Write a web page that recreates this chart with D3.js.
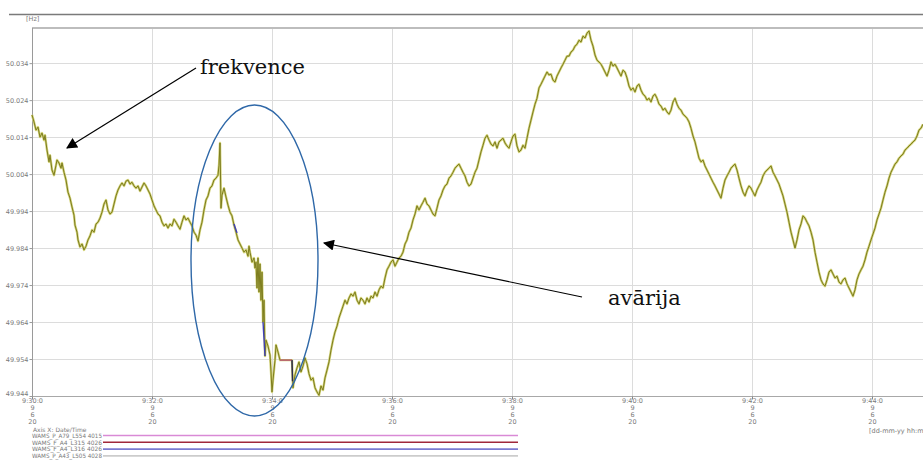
<!DOCTYPE html>
<html>
<head>
<meta charset="utf-8">
<script src="https://cdn.jsdelivr.net/npm/d3@7"></script>
<style>
  html, body { margin: 0; padding: 0; background: #fff; }
  svg { display: block; }
  .tick-label { font-family: "DejaVu Sans", sans-serif; font-size: 6.5px; fill: #7a7a7a; }
  .legend-label { font-family: "DejaVu Sans", sans-serif; font-size: 6px; fill: #7a7a7a; }
  .note { font-family: "DejaVu Serif", serif; font-size: 21px; fill: #111; }
</style>
</head>
<body>
<svg id="chart" width="923" height="460"></svg>
<script>
// Grid frequency, seconds after 09:30:00, and measured value in Hz
const seconds = [
  0,2,4,6,8,10,12,13,15,17,18,20,22,24,25,27,29,30,32,34,36,38,40,42,43,45,46,48,50,52,54,56,58,60,
  62,64,66,68,70,72,74,76,78,80,82,84,86,88,90,92,94,96,98,100,102,104,106,108,110,112,114,116,118,120,
  122,124,126,128,130,132,134,136,138,140,142,144,146,148,150,152,154,156,158,160,162,164,166,168,170,172,
  174,176,178,180,182,184,186,187,188,189,190,192,194,196,198,200,202,204,206,208,210,212,214,216,217,218,
  220,222,223,224,225,226,227,228,229,230,231,232,233,234,236,238,239,240,241,243,244,246,248,252,256,260,
  261,263,265,267,269,271,273,275,277,279,281,283,285,287,289,291,293,295,297,299,301,303,305,307,309,311,
  313,315,317,319,321,323,325,327,329,331,333,335,337,339,341,343,345,347,349,351,353,355,357,359,361,363,
  365,367,369,371,373,375,377,379,381,383,385,387,389,391,393,395,397,399,401,403,405,407,409,411,413,415,
  417,419,421,423,425,427,429,431,433,435,437,439,441,443,445,447,449,451,453,455,457,459,461,463,465,467,
  469,471,473,475,477,479,481,483,485,487,489,491,493,495,497,499,501,503,505,507,509,511,513,515,517,519,
  521,523,525,527,529,531,533,535,537,539,541,543,545,547,549,551,553,555,557,559,561,563,565,567,569,571,
  573,575,577,579,581,583,585,587,589,591,593,595,597,599,601,603,605,607,609,611,613,615,617,619,621,623,
  625,627,629,631,633,635,637,639,641,643,645,647,649,651,653,655,657,659,661,663,665,667,669,671,673,675,
  677,679,681,683,685,687,689,691,693,695,697,699,701,703,705,707,709,711,713,715,717,719,721,723,725,727,
  729,731,733,735,737,739,741,743,745,747,749,751,753,755,757,759,761,763,765,767,769,771,773,775,777,779,
  781,783,785,787,789,791,793,795,797,799,801,803,805,807,809,811,813,815,817,819,821,823,825,827,829,831,
  833,835,837,839,841,843,845,847,849,851,853,855,857,859,861,863,865,867,869,871,873,875,877,879,881,883,
  885,887,889,891
];
const frequency = [
  50.0200,50.0181,50.0159,50.0167,50.0140,50.0151,50.0132,50.0145,50.0105,50.0073,50.0091,50.0051,50.0037,50.0064,50.0078,50.0070,50.0056,50.0070,50.0045,50.0024,49.9991,49.9975,49.9951,49.9929,49.9902,49.9883,49.9862,49.9843,49.9851,49.9835,49.9845,49.9862,49.9873,49.9889,
  49.9883,49.9905,49.9910,49.9921,49.9937,49.9959,49.9970,49.9943,49.9932,49.9937,49.9959,49.9981,49.9997,50.0008,50.0016,50.0008,50.0021,50.0024,50.0013,50.0018,50.0008,50.0002,50.0008,49.9994,50.0005,50.0016,50.0008,49.9997,49.9986,49.9970,
  49.9954,49.9943,49.9932,49.9927,49.9910,49.9900,49.9905,49.9894,49.9905,49.9900,49.9918,49.9910,49.9900,49.9891,49.9910,49.9927,49.9916,49.9921,49.9910,49.9900,49.9883,49.9875,49.9859,49.9889,49.9910,49.9943,
  49.9970,49.9981,50.0002,50.0008,50.0024,50.0029,50.0037,50.0064,50.0124,49.9948,49.9983,50.0002,49.9978,49.9956,49.9937,49.9927,49.9902,49.9883,49.9862,49.9851,49.9840,49.9829,49.9835,49.9818,49.9845,49.9829,
  49.9802,49.9813,49.9786,49.9802,49.9732,49.9813,49.9721,49.9797,49.9699,49.9775,49.9640,49.9699,49.9548,49.9591,49.9575,49.9551,49.9505,49.9451,49.9483,49.9537,49.9578,49.9559,49.9537,49.9537,49.9537,49.9537,
  49.9462,49.9497,49.9516,49.9532,49.9505,49.9521,49.9543,49.9527,49.9500,49.9483,49.9489,49.9462,49.9451,49.9442,49.9467,49.9456,49.9489,49.9510,49.9532,49.9564,49.9591,49.9613,49.9629,49.9651,49.9667,49.9683,
  49.9699,49.9689,49.9705,49.9716,49.9710,49.9721,49.9699,49.9689,49.9705,49.9699,49.9689,49.9705,49.9694,49.9710,49.9705,49.9721,49.9710,49.9727,49.9737,49.9732,49.9759,49.9781,49.9791,49.9802,49.9808,49.9791,
  49.9802,49.9813,49.9818,49.9829,49.9851,49.9862,49.9883,49.9894,49.9916,49.9932,49.9954,49.9943,49.9954,49.9964,49.9975,49.9959,49.9954,49.9943,49.9932,49.9927,49.9948,49.9970,49.9981,49.9997,50.0008,50.0013,
  50.0029,50.0035,50.0045,50.0056,50.0062,50.0067,50.0056,50.0045,50.0035,50.0018,50.0008,50.0013,50.0029,50.0045,50.0056,50.0078,50.0100,50.0118,50.0137,50.0145,50.0132,50.0121,50.0116,50.0127,50.0110,50.0127,
  50.0132,50.0137,50.0124,50.0116,50.0110,50.0127,50.0143,50.0148,50.0116,50.0100,50.0105,50.0118,50.0110,50.0137,50.0164,50.0186,50.0208,50.0229,50.0245,50.0273,50.0283,50.0294,50.0305,50.0316,50.0308,50.0310,
  50.0294,50.0289,50.0305,50.0316,50.0327,50.0337,50.0348,50.0359,50.0359,50.0370,50.0375,50.0386,50.0391,50.0402,50.0397,50.0413,50.0408,50.0421,50.0427,50.0402,50.0386,50.0362,50.0348,50.0343,50.0337,50.0327,
  50.0316,50.0305,50.0321,50.0343,50.0332,50.0337,50.0327,50.0316,50.0305,50.0321,50.0316,50.0300,50.0278,50.0267,50.0273,50.0262,50.0278,50.0283,50.0267,50.0256,50.0251,50.0240,50.0245,50.0235,50.0251,50.0256,
  50.0245,50.0229,50.0224,50.0213,50.0218,50.0208,50.0202,50.0213,50.0235,50.0245,50.0229,50.0218,50.0213,50.0202,50.0197,50.0191,50.0181,50.0164,50.0143,50.0127,50.0105,50.0083,50.0073,50.0078,50.0062,50.0051,
  50.0040,50.0029,50.0018,50.0008,49.9997,49.9986,49.9975,50.0002,50.0024,50.0035,50.0045,50.0056,50.0062,50.0067,50.0051,50.0029,50.0008,49.9991,49.9981,49.9997,50.0008,50.0002,49.9991,49.9981,49.9997,50.0008,
  50.0018,50.0035,50.0045,50.0051,50.0056,50.0062,50.0045,50.0035,50.0024,50.0013,49.9997,49.9981,49.9959,49.9937,49.9910,49.9883,49.9862,49.9840,49.9862,49.9889,49.9905,49.9927,49.9921,49.9910,49.9900,49.9883,
  49.9862,49.9829,49.9802,49.9775,49.9754,49.9743,49.9737,49.9754,49.9775,49.9781,49.9770,49.9759,49.9764,49.9748,49.9743,49.9754,49.9759,49.9743,49.9732,49.9721,49.9710,49.9727,49.9754,49.9770,49.9781,49.9791,
  49.9808,49.9829,49.9845,49.9862,49.9878,49.9894,49.9916,49.9932,49.9948,49.9970,49.9991,50.0008,50.0029,50.0045,50.0056,50.0067,50.0073,50.0083,50.0089,50.0094,50.0105,50.0110,50.0116,50.0121,50.0127,50.0132,
  50.0143,50.0159,50.0164,50.0175
];

// Short stretches where other feeders show through the main trace
const l316Seconds = [202, 203, 204, 205];
const l316Values  = [49.9905, 49.9897, 49.9889, 49.9881];
const l316Seconds2 = [231, 232, 233];
const l316Values2  = [49.9640, 49.9594, 49.9548];
const l315Seconds = [248, 252, 256, 260];
const l315Values  = [49.9537, 49.9537, 49.9537, 49.9537];
const l505Seconds = [260, 260.5];
const l505Values  = [49.9537, 49.9480];

const yTicks = [49.944, 49.954, 49.964, 49.974, 49.984, 49.994, 50.004, 50.014, 50.024, 50.034];
const xTickMinutes = [30, 32, 34, 36, 38, 40, 42, 44];
const dateLines = ["9", "6", "20"];
const legendItems = ["WAMS_P_A79_L554 4015", "WAMS_F_A4_L315 4026", "WAMS_F_A4_L316 4026", "WAMS_P_A43_L505 4028"];
const legendColors = ["#d98ad6", "#a0283a", "#7a7ad0", "#cccccc"];

const svg = d3.select("#chart");
const base = new Date(2020, 5, 9, 9, 30, 0);
const at = s => new Date(base.getTime() + s * 1000);

const x = d3.scaleTime()
  .domain([base, at(891)])
  .range([32, 923]);
const y = d3.scaleLinear()
  .domain([49.944, 50.0435])
  .range([396, 28]);

// page rule and plot frame top
svg.append("line").attr("x1", 9).attr("x2", 923).attr("y1", 14.5).attr("y2", 14.5)
  .attr("stroke", "#7a7a7a").attr("stroke-width", 1.5);
svg.append("text").attr("class", "tick-label").attr("x", 26).attr("y", 20.5).text("[Hz]");
svg.append("line").attr("x1", 32).attr("x2", 923).attr("y1", 28).attr("y2", 28)
  .attr("stroke", "#bdbdbd").attr("stroke-width", 2);

// grid
const xTicks = xTickMinutes.map(m => new Date(2020, 5, 9, 9, m, 0));
svg.append("g").selectAll("line").data(yTicks.slice(1)).join("line")
  .attr("x1", 32).attr("x2", 923)
  .attr("y1", d => Math.round(y(d)) + 0.5).attr("y2", d => Math.round(y(d)) + 0.5)
  .attr("stroke", "#dcdcdc").attr("stroke-width", 1);
svg.append("g").selectAll("line").data(xTicks.slice(1)).join("line")
  .attr("x1", d => Math.round(x(d)) + 0.5).attr("x2", d => Math.round(x(d)) + 0.5)
  .attr("y1", 29).attr("y2", 396)
  .attr("stroke", "#dcdcdc").attr("stroke-width", 1);

// y axis
const yAxis = d3.axisLeft(y).tickValues(yTicks).tickFormat(d3.format(".3f")).tickSize(3).tickPadding(1);
const gy = svg.append("g").attr("transform", "translate(32.5,0)").call(yAxis);
gy.select(".domain").attr("stroke", "#9a9a9a").attr("d", "M0,28V396");
gy.selectAll(".tick line").attr("stroke", "#9a9a9a");
gy.selectAll(".tick text").attr("class", "tick-label").attr("fill", "#7a7a7a").attr("dy", "0.32em");
gy.selectAll(".tick").filter(d => d === yTicks[0]).select("text").attr("dy", "-0.05em");

// x axis: time on the first line, then day, month and year
const xAxis = d3.axisBottom(x).tickValues(xTicks).tickSize(3).tickFormat(() => "");
const gx = svg.append("g").attr("transform", "translate(0,396.5)").call(xAxis);
gx.select(".domain").attr("stroke", "#a8a8a8").attr("d", "M32,0H923");
gx.selectAll(".tick line").attr("stroke", "#888");
gx.selectAll(".tick").each(function(d) {
  const t = d3.select(this).append("text").attr("class", "tick-label").attr("fill", "#7a7a7a")
    .attr("text-anchor", "middle");
  const lines = [`${d.getHours()}:${d.getMinutes()}:${d.getSeconds()}`].concat(dateLines);
  lines.forEach((s, i) => t.append("tspan").attr("x", 0).attr("y", 6.2 + i * 7).text(s));
});
svg.append("text").attr("class", "tick-label").attr("x", 869).attr("y", 432.5).text("[dd-mm-yy hh:mm:ss]");

// frequency trace
const pts = seconds.map((s, i) => [at(s), frequency[i]]);
const line = d3.line().x(d => x(d[0])).y(d => y(d[1]));
svg.append("path").datum(pts).attr("d", line)
  .attr("fill", "none").attr("stroke", "#d2d27a").attr("stroke-width", 2.4).attr("stroke-linejoin", "round");
svg.append("path").datum(pts).attr("d", line)
  .attr("fill", "none").attr("stroke", "#7d7d1e").attr("stroke-width", 1).attr("stroke-linejoin", "round");

const seg = (ss, vs, color) => svg.append("path")
  .datum(ss.map((s, i) => [at(s), vs[i]])).attr("d", line)
  .attr("fill", "none").attr("stroke", color).attr("stroke-width", 1.4);
seg(l316Seconds, l316Values, "#4040b8");
seg(l316Seconds2, l316Values2, "#4040b8");
seg(l315Seconds, l315Values, "#c0607a");
seg(l505Seconds, l505Values, "#2a2a50");

// legend
svg.append("text").attr("class", "legend-label").attr("x", 33).attr("y", 431.5).text("Axis X: Date/Time");
legendItems.forEach((name, i) => {
  const ly = 435.5 + i * 6.8;
  svg.append("text").attr("class", "legend-label").attr("x", 32).attr("y", ly + 2.2)
    .attr("textLength", 70).attr("lengthAdjust", "spacingAndGlyphs").text(name);
  svg.append("line").attr("x1", 103).attr("x2", 518).attr("y1", ly).attr("y2", ly)
    .attr("stroke", legendColors[i]).attr("stroke-width", 1.6);
});

// annotations
svg.append("ellipse").attr("cx", 254.5).attr("cy", 260.5).attr("rx", 63.5).attr("ry", 155.5)
  .attr("fill", "none").attr("stroke", "#2f68a8").attr("stroke-width", 1.4);

const defs = svg.append("defs");
defs.append("marker").attr("id", "head").attr("viewBox", "0 0 10 10")
  .attr("refX", 9).attr("refY", 5).attr("markerWidth", 14).attr("markerHeight", 11)
  .attr("markerUnits", "userSpaceOnUse").attr("orient", "auto")
  .append("path").attr("d", "M0,0L10,5L0,10Z").attr("fill", "#000");

svg.append("line").attr("x1", 196).attr("y1", 68).attr("x2", 67).attr("y2", 148)
  .attr("stroke", "#000").attr("stroke-width", 1.2).attr("marker-end", "url(#head)");
svg.append("line").attr("x1", 582).attr("y1", 297).attr("x2", 324).attr("y2", 243)
  .attr("stroke", "#000").attr("stroke-width", 1.2).attr("marker-end", "url(#head)");

svg.append("text").attr("class", "note").attr("x", 200).attr("y", 74).text("frekvence");
svg.append("text").attr("class", "note").attr("x", 608).attr("y", 305).text("avārija");
</script>
</body>
</html>
